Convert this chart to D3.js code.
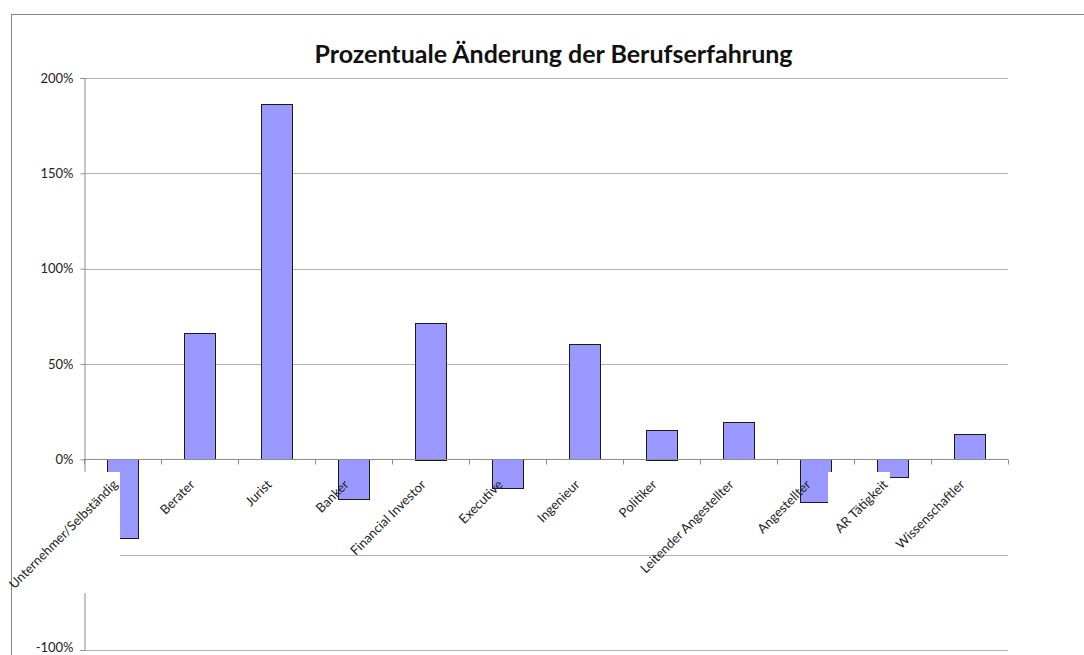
<!DOCTYPE html>
<html><head><meta charset="utf-8">
<script src="https://cdn.jsdelivr.net/npm/d3@7"></script>
<style>body{margin:0;background:#fff}svg{display:block}</style>
</head><body>
<script>
const categories = ["Unternehmer/Selbständig","Berater","Jurist","Banker","Financial Investor","Executive","Ingenieur","Politiker","Leitender Angestellter","Angestellter","AR Tätigkeit","Wissenschaftler"];
const values = [-0.415, 0.662, 1.863, -0.212, 0.716, -0.154, 0.604, 0.156, 0.196, -0.224, -0.096, 0.133];
const yTicks = [-1, -0.5, 0, 0.5, 1, 1.5, 2];
const title = "Prozentuale Änderung der Berufserfahrung";

const W = 1084, H = 655;
const FONT = "Lato, 'Open Sans', sans-serif";
const svg = d3.select("body").append("svg").attr("width", W).attr("height", H);

// outer chart border
svg.append("rect").attr("x", 11.5).attr("y", 14.5).attr("width", 1100).attr("height", 700)
  .attr("fill", "#fff").attr("stroke", "#878787").attr("stroke-width", 1);

const x = d3.scaleBand().domain(categories).range([84, 1008]).paddingInner(0.6).paddingOuter(0.3);
const xb = d3.scaleBand().domain(categories).range([84, 1008]);
const y = d3.scaleLinear().domain([-1, 2]).range([650, 78]);

// gridlines
svg.append("g").selectAll("line").data(yTicks.filter(d => d !== 0)).join("line")
  .attr("x1", 84).attr("x2", 1008)
  .attr("y1", d => Math.round(y(d)) + 0.5).attr("y2", d => Math.round(y(d)) + 0.5)
  .attr("stroke", "#b3b3b3").attr("stroke-width", 1);

// y axis
const yAxis = d3.axisLeft(y).tickValues(yTicks).tickSize(4).tickPadding(7)
  .tickFormat(d => Math.round(d * 100) + "%");
const gy = svg.append("g").attr("transform", "translate(84.5,0)").call(yAxis);
gy.select(".domain").attr("stroke", "#8c8c8c");
gy.selectAll(".tick line").attr("stroke", "#8c8c8c");
gy.selectAll(".tick text").attr("font-family", FONT).attr("font-size", 13).attr("fill", "#222")
  .attr("dy", d => d === -1 ? "0.12em" : "0.32em");

// bars
svg.append("g").selectAll("rect").data(categories).join("rect")
  .attr("x", (d) => Math.round(x(d)) + 0.5)
  .attr("width", Math.round(x.bandwidth()))
  .attr("y", (d, i) => Math.round(y(Math.max(0, values[i]))) + 0.5)
  .attr("height", (d, i) => Math.round(Math.abs(y(values[i]) - y(0))))
  .attr("fill", "#9999ff").attr("stroke", "#1a1a1a").attr("stroke-width", 1);

// x axis at zero
const xAxis = d3.axisBottom(xb).tickSize(5).tickFormat("");
const gx = svg.append("g").attr("transform", `translate(0,${Math.round(y(0)) + 0.5})`).call(xAxis);
gx.select(".domain").attr("stroke", "#8c8c8c").attr("d", "M84,0H1008");
gx.selectAll(".tick").remove();
gx.selectAll("line.bt").data(d3.range(categories.length + 1)).join("line")
  .attr("class", "bt")
  .attr("x1", i => Math.round(84 + i * xb.step()) + 0.5).attr("x2", i => Math.round(84 + i * xb.step()) + 0.5)
  .attr("y1", 0).attr("y2", 5).attr("stroke", "#8c8c8c");

// white label boxes (as in original)
const boxCats = {"Unternehmer/Selbständig": [12, 472, 108, 121], "AR Tätigkeit": [828, 472, 62, 63]};
Object.entries(boxCats).forEach(([k, b]) => {
  svg.append("rect").attr("x", b[0]).attr("y", b[1]).attr("width", b[2]).attr("height", b[3]).attr("fill", "#fff");
});

// category labels
svg.append("g").selectAll("text").data(categories).join("text")
  .attr("transform", d => `translate(${xb(d) + xb.bandwidth() / 2 - 4},${y(0) + 26}) rotate(-45)`)
  .attr("text-anchor", "end")
  .attr("font-family", FONT).attr("font-size", 13).attr("fill", "#222")
  .text(d => d);

// title
svg.append("text").attr("x", 553.5).attr("y", 62.5).attr("text-anchor", "middle")
  .attr("font-family", FONT).attr("font-weight", "bold").attr("font-size", 25)
  .attr("fill", "#111").text(title);
</script>
</body></html>
